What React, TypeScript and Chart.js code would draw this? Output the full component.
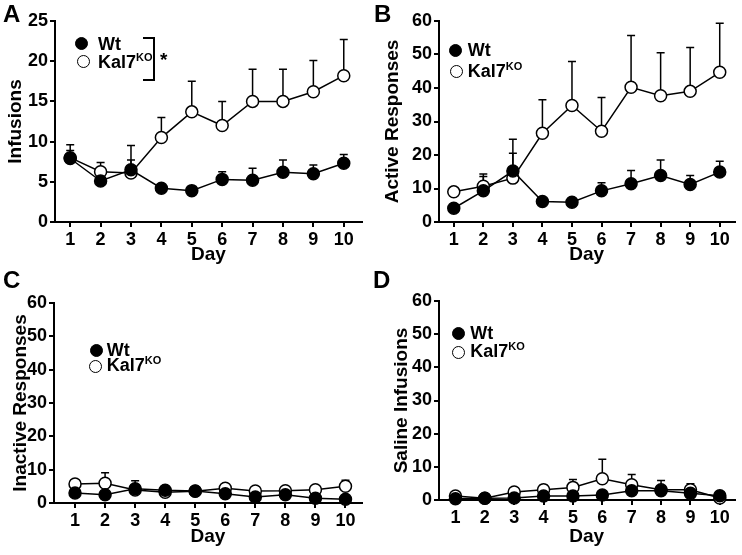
import React, { useEffect, useRef } from "react";
import { Chart, registerables } from "chart.js";

Chart.register(...registerables);

// ---------- data ----------
const days = [1, 2, 3, 4, 5, 6, 7, 8, 9, 10];

const infusionsWt = [7.9, 5.1, 6.5, 4.2, 3.9, 5.3, 5.2, 6.2, 6.0, 7.3];
const infusionsWtErr = [1.7, 1.15, 1.2, 0.4, 0.4, 0.95, 1.5, 1.5, 1.1, 1.1];
const infusionsKo = [8.0, 6.25, 6.1, 10.5, 13.7, 12.0, 15.0, 15.0, 16.2, 18.2];
const infusionsKoErr = [0.9, 1.15, 3.4, 2.5, 3.8, 3.0, 4.0, 4.0, 3.9, 4.5];

const activeWt = [4.1, 9.3, 15.2, 6.1, 5.9, 9.3, 11.4, 13.9, 11.2, 14.9];
const activeWtErr = [0.5, 5.0, 5.3, 0.5, 0.5, 2.4, 4.0, 4.6, 2.7, 3.2];
const activeKo = [9.0, 10.7, 13.1, 26.5, 34.8, 27.1, 40.2, 37.7, 39.0, 44.7];
const activeKoErr = [0.5, 2.9, 11.6, 10.0, 13.1, 10.1, 15.5, 12.8, 13.1, 14.6];

const inactiveWt = [3.0, 2.5, 4.3, 3.8, 3.6, 2.8, 1.8, 2.5, 1.4, 1.1];
const inactiveWtErr = [0.6, 0.5, 2.4, 0.5, 0.5, 0.6, 0.6, 0.6, 0.5, 0.4];
const inactiveKo = [5.7, 5.9, 3.9, 3.2, 3.5, 4.4, 3.6, 3.7, 4.0, 5.0];
const inactiveKoErr = [0.6, 3.2, 0.6, 0.5, 0.5, 0.6, 0.5, 0.5, 0.6, 1.8];

const salineWt = [0.4, 0.5, 0.6, 1.2, 1.2, 1.5, 2.8, 2.8, 2.0, 1.3];
const salineWtErr = [0.3, 0.3, 0.3, 0.4, 0.4, 0.4, 0.6, 0.6, 0.5, 0.5];
const salineKo = [1.2, 0.5, 2.4, 3.1, 3.8, 6.4, 4.6, 3.1, 3.1, 0.6];
const salineKoErr = [0.4, 0.3, 0.5, 1.4, 2.4, 5.9, 3.1, 2.8, 1.8, 0.4];

const seriesNames = ["Wt", "Kal7"];
const koSuffix = "KO";
const xTitle = "Day";

// ---------- layout ----------
const FONT = '"Liberation Sans", Arial, Helvetica, sans-serif';
const TICK_SIZE = 18;
const TITLE_SIZE = 19;

type Panel = {
  id: string;
  left: number;
  top: number;
  w: number;
  h: number;
  areaLeft: number;
  areaTop: number;
  areaBottom: number;
  areaRight: number;
  xMin: number;
  xMax: number;
  yMax: number;
  yStep: number;
  yTitle: string;
  yTitlePad: number;
  dayGap: number;
  wt: number[];
  wtErr: number[];
  ko: number[];
  koErr: number[];
};

const panels: Panel[] = [
  {
    id: "A", left: 0, top: 0, w: 371, h: 278,
    areaLeft: 55, areaTop: 21, areaBottom: 222, areaRight: 362,
    xMin: 0.5, xMax: 10.6, yMax: 25, yStep: 5,
    yTitle: "Infusions", yTitlePad: 4, dayGap: 33,
    wt: infusionsWt, wtErr: infusionsWtErr, ko: infusionsKo, koErr: infusionsKoErr,
  },
  {
    id: "B", left: 371, top: 0, w: 371, h: 278,
    areaLeft: 68, areaTop: 21, areaBottom: 222, areaRight: 368,
    xMin: 0.5, xMax: 10.5, yMax: 60, yStep: 10,
    yTitle: "Active Responses", yTitlePad: 10, dayGap: 33,
    wt: activeWt, wtErr: activeWtErr, ko: activeKo, koErr: activeKoErr,
  },
  {
    id: "C", left: 0, top: 278, w: 371, h: 277,
    areaLeft: 54, areaTop: 25, areaBottom: 225, areaRight: 362,
    xMin: 0.3, xMax: 10.55, yMax: 60, yStep: 10,
    yTitle: "Inactive Responses", yTitlePad: 9, dayGap: 34,
    wt: inactiveWt, wtErr: inactiveWtErr, ko: inactiveKo, koErr: inactiveKoErr,
  },
  {
    id: "D", left: 371, top: 278, w: 371, h: 277,
    areaLeft: 68, areaTop: 23, areaBottom: 222, areaRight: 367,
    xMin: 0.44, xMax: 10.5, yMax: 60, yStep: 10,
    yTitle: "Saline Infusions", yTitlePad: 19, dayGap: 37,
    wt: salineWt, wtErr: salineWtErr, ko: salineKo, koErr: salineKoErr,
  },
];

type LegendPos = { filled: [number, number]; open: [number, number]; textX: number; wtBase: number; koBase: number };
const legends: LegendPos[] = [
  { filled: [81.5, 43.8], open: [83.5, 61.7], textX: 98, wtBase: 50, koBase: 68 },
  { filled: [455, 50], open: [456.5, 71], textX: 467.7, wtBase: 56.7, koBase: 77.3 },
  { filled: [96, 350], open: [95.5, 366.3], textX: 106.7, wtBase: 356, koBase: 371.7 },
  { filled: [458, 333], open: [458.5, 352], textX: 470.3, wtBase: 339.3, koBase: 357.3 },
];

const letterPos: [number, number][] = [
  [3, 22],
  [374, 22],
  [3, 288.5],
  [373, 288],
];

// ---------- error bars ----------
const errorBars = {
  id: "errorBars",
  beforeDatasetsDraw(chart: any) {
    const { ctx } = chart;
    const yScale = chart.scales.y;
    chart.data.datasets.forEach((ds: any, i: number) => {
      if (!ds.errors) return;
      const meta = chart.getDatasetMeta(i);
      ctx.save();
      ctx.strokeStyle = "#000";
      ctx.lineWidth = 1.5;
      meta.data.forEach((pt: any, j: number) => {
        const top = yScale.getPixelForValue(ds.data[j].y + ds.errors[j]);
        ctx.beginPath();
        ctx.moveTo(pt.x, pt.y);
        ctx.lineTo(pt.x, top);
        ctx.moveTo(pt.x - 4, top);
        ctx.lineTo(pt.x + 4, top);
        ctx.stroke();
      });
      ctx.restore();
    });
  },
};

function PanelChart({ p }: { p: Panel }) {
  const ref = useRef<HTMLCanvasElement>(null);
  useEffect(() => {
    if (!ref.current) return;
    const xH = p.dayGap + TITLE_SIZE * 0.6;
    const tickFont = { family: FONT, size: TICK_SIZE, weight: "bold" as const };
    const titleFont = { family: FONT, size: TITLE_SIZE, weight: "bold" as const };
    const mk = (vals: number[], errs: number[], fill: string, label: string) => ({
      label,
      data: days.map((d, i) => ({ x: d, y: vals[i] })),
      errors: errs,
      borderColor: "#000",
      borderWidth: 1.5,
      pointRadius: 6,
      pointHoverRadius: 6,
      pointBorderWidth: 1.5,
      pointBackgroundColor: fill,
      pointBorderColor: "#000",
      fill: false,
      tension: 0,
      clip: false as any,
    });
    const chart = new Chart(ref.current, {
      type: "line",
      data: {
        datasets: [
          mk(p.wt, p.wtErr, "#000", seriesNames[0]),
          mk(p.ko, p.koErr, "#fff", seriesNames[1] + koSuffix),
        ] as any,
      },
      options: {
        animation: false,
        responsive: false,
        maintainAspectRatio: false,
        layout: {
          padding: {
            left: 0,
            top: p.areaTop,
            right: p.w - p.areaRight,
            bottom: p.h - p.areaBottom - xH,
          },
        },
        plugins: { legend: { display: false }, tooltip: { enabled: false } },
        scales: {
          x: {
            type: "linear",
            min: p.xMin,
            max: p.xMax,
            afterBuildTicks: (s: any) => {
              s.ticks = days.map((v) => ({ value: v }));
            },
            afterFit: (s: any) => {
              s.height = xH;
            },
            grid: { drawOnChartArea: false, drawTicks: true, tickLength: 5, color: "#000", lineWidth: 2 },
            border: { display: true, color: "#000", width: 2 },
            ticks: { color: "#000", font: tickFont, padding: 2, maxRotation: 0, autoSkip: false },
            title: { display: true, text: xTitle, color: "#000", font: titleFont, padding: { top: 0, bottom: 0 } },
          },
          y: {
            type: "linear",
            min: 0,
            max: p.yMax,
            afterFit: (s: any) => {
              s.width = p.areaLeft;
            },
            grid: { drawOnChartArea: false, drawTicks: true, tickLength: 5, color: "#000", lineWidth: 2 },
            border: { display: true, color: "#000", width: 2 },
            ticks: { color: "#000", font: tickFont, padding: 2, stepSize: p.yStep },
            title: { display: true, text: p.yTitle, color: "#000", font: titleFont, padding: { top: p.yTitlePad, bottom: 0 } },
          },
        },
      } as any,
      plugins: [errorBars],
    });
    return () => chart.destroy();
  }, [p]);
  return (
    <canvas
      ref={ref}
      width={p.w}
      height={p.h}
      style={{ position: "absolute", left: p.left, top: p.top, width: p.w, height: p.h }}
    />
  );
}

function Txt({ x, base, size, children }: { x: number; base: number; size: number; children: React.ReactNode }) {
  return (
    <div
      style={{
        position: "absolute",
        left: x,
        top: base - 0.8465 * size,
        font: `bold ${size}px/${size}px ${FONT}`,
        color: "#000",
        whiteSpace: "nowrap",
      }}
    >
      {children}
    </div>
  );
}

function Dot({ cx, cy, fill }: { cx: number; cy: number; fill: string }) {
  const d = 13;
  return (
    <div
      style={{
        position: "absolute",
        left: cx - d / 2,
        top: cy - d / 2,
        width: d,
        height: d,
        boxSizing: "border-box",
        borderRadius: "50%",
        border: "1.5px solid #000",
        background: fill,
      }}
    />
  );
}

export default function App() {
  return (
    <div
      style={{
        position: "fixed",
        left: 0,
        top: 0,
        width: 742,
        height: 555,
        background: "#fff",
        overflow: "hidden",
      }}
    >
      {panels.map((p) => (
        <PanelChart key={p.id} p={p} />
      ))}
      {panels.map((p, i) => (
        <Txt key={"l" + p.id} x={letterPos[i][0]} base={letterPos[i][1]} size={24}>
          {p.id}
        </Txt>
      ))}
      {legends.map((l, i) => (
        <React.Fragment key={"lg" + i}>
          <Dot cx={l.filled[0]} cy={l.filled[1]} fill="#000" />
          <Dot cx={l.open[0]} cy={l.open[1]} fill="#fff" />
          <Txt x={l.textX} base={l.wtBase} size={18}>
            {seriesNames[0]}
          </Txt>
          <Txt x={l.textX} base={l.koBase} size={18}>
            {seriesNames[1]}
            <span style={{ fontSize: 11, position: "relative", top: -7, lineHeight: "11px" }}>{koSuffix}</span>
          </Txt>
        </React.Fragment>
      ))}
      {/* significance bracket, panel A */}
      <div
        style={{
          position: "absolute",
          left: 143,
          top: 36.5,
          width: 10,
          height: 40,
          borderTop: "2px solid #000",
          borderRight: "2px solid #000",
          borderBottom: "2px solid #000",
        }}
      />
      <Txt x={160} base={66} size={19}>
        *
      </Txt>
    </div>
  );
}
